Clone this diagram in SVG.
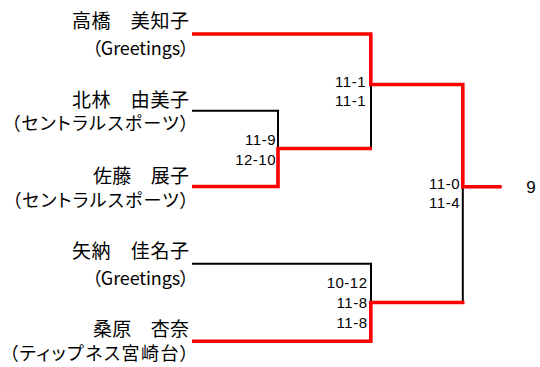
<svg xmlns="http://www.w3.org/2000/svg" width="540" height="367" viewBox="0 0 540 367">
<style>
.nm{font-family:"Noto Sans CJK JP","Noto Sans CJK SC",sans-serif;font-size:19px;fill:#000;text-anchor:end}
.pr{font-family:"Noto Sans CJK JP","Noto Sans CJK SC",sans-serif;font-size:18px;fill:#000;text-anchor:end;font-feature-settings:"palt"}
.sc{font-family:"Liberation Sans",Arial,sans-serif;font-size:15px;fill:#000;text-anchor:end;letter-spacing:0.5px}
.rd{fill:none;stroke:#ff0000;stroke-width:3.6;stroke-linejoin:miter}
.bk{fill:none;stroke:#000;stroke-width:2;stroke-linejoin:miter}
</style>
<rect width="540" height="367" fill="#fff"/>
<g id="connectors">
<path class="bk" d="M192,110.7 H278 V148.5"/>
<path class="bk" d="M371,84.5 V148.5"/>
<path class="bk" d="M192,263.7 H371 V302.5"/>
<path class="bk" d="M462.8,186.7 V302.5"/>
<path class="rd" d="M192,34 H370.8 V84.5 H462.8 V186.7 H501.7"/>
<path class="rd" d="M192,186.5 H278 V148.5 H372"/>
<path class="rd" d="M192,341.2 H370.8 V302.5 H464.5"/>
</g>
<g id="player1">
<text class="nm" x="189" y="27.5" textLength="117">高橋　美知子</text>
<text class="pr" x="189" y="54.5" textLength="97">（Greetings）</text>
</g>
<g id="player2">
<text class="nm" x="189" y="106.5" textLength="117">北林　由美子</text>
<text class="pr" x="189" y="130" textLength="178">（セントラルスポーツ）</text>
</g>
<g id="player3">
<text class="nm" x="189" y="182.5" textLength="96">佐藤　展子</text>
<text class="pr" x="189" y="207" textLength="177">（セントラルスポーツ）</text>
</g>
<g id="player4">
<text class="nm" x="189" y="258" textLength="117">矢納　佳名子</text>
<text class="pr" x="189" y="285" textLength="97">（Greetings）</text>
</g>
<g id="player5">
<text class="nm" x="189" y="336" textLength="96">桑原　杏奈</text>
<text class="pr" x="189" y="360" textLength="180">（ティップネス宮崎台）</text>
</g>
<g id="match-semi1">
<text class="sc" x="366" y="86.5">11-1</text>
<text class="sc" x="366" y="106">11-1</text>
</g>
<g id="match-qf">
<text class="sc" x="276" y="145">11-9</text>
<text class="sc" x="276" y="164.5">12-10</text>
</g>
<g id="match-semi2">
<text class="sc" x="367.5" y="288.3">10-12</text>
<text class="sc" x="367.5" y="307.7">11-8</text>
<text class="sc" x="367.5" y="327.5">11-8</text>
</g>
<g id="match-final">
<text class="sc" x="460" y="189.3">11-0</text>
<text class="sc" x="460" y="208.3">11-4</text>
</g>
<g id="winner">
<text x="531" y="192.7" font-family="'Liberation Sans',Arial,sans-serif" font-size="17" text-anchor="middle" fill="#000">9</text>
</g>
</svg>
